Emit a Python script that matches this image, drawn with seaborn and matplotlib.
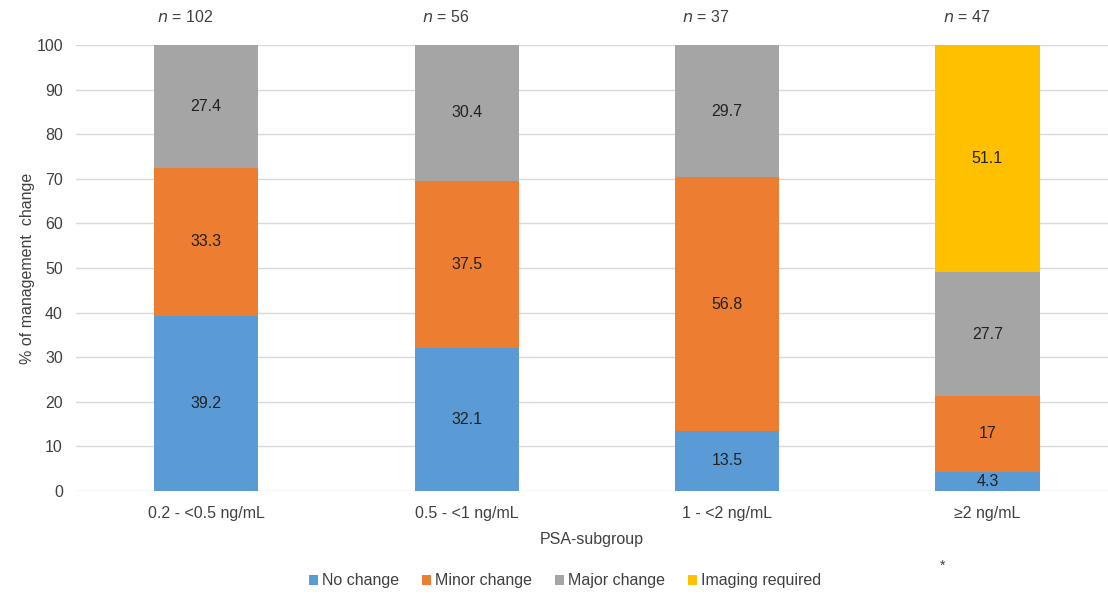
import matplotlib
matplotlib.use("Agg")
import matplotlib.pyplot as plt
from matplotlib.patches import Patch
import numpy as np
import pandas as pd
import seaborn as sns

# PSA subgroups and the share of patients per management-change category (%)
subgroups = ["0.2 - <0.5 ng/mL", "0.5 - <1 ng/mL", "1 - <2 ng/mL", "\u22652 ng/mL"]
group_sizes = [102, 56, 37, 47]
no_change = [39.2, 32.1, 13.5, 4.3]
minor_change = [33.3, 37.5, 56.8, 17]
major_change = [27.4, 30.4, 29.7, 27.7]
imaging_required = [0, 0, 0, 51.1]

series_names = ["No change", "Minor change", "Major change", "Imaging required"]
series_values = [no_change, minor_change, major_change, imaging_required]
series_colors = ["#5B9BD5", "#ED7D31", "#A5A5A5", "#FFC000"]

sns.set_theme(style="white")
plt.rcParams["font.family"] = ["Liberation Sans", "DejaVu Sans"]

FS = 11.5
TXT = "#404040"

fig = plt.figure(figsize=(11.08, 5.95), dpi=100)
ax = fig.add_axes([76 / 1108, 104 / 595, 1 - 76 / 1108, 446 / 595])

bottoms = np.zeros(len(subgroups))
for name, vals, col in zip(series_names, series_values, series_colors):
    df = pd.DataFrame({"group": subgroups, "value": vals})
    sns.barplot(data=df, x="group", y="value", order=subgroups, color=col,
                width=0.4, bottom=bottoms.copy(), ax=ax, saturation=1,
                linewidth=0, zorder=3)
    for i, v in enumerate(vals):
        if v > 0:
            ax.text(i, bottoms[i] + v / 2, f"{v:g}", ha="center", va="center",
                    fontsize=FS, color="#222222", zorder=4)
    bottoms += np.array(vals)

ax.set_ylim(0, 100)
ax.set_xlim(-0.5, 3.463)
ax.set_yticks(range(0, 101, 10))
ax.yaxis.grid(True, color="#D9D9D9", linewidth=1.0, zorder=0)
ax.xaxis.grid(False)
for s in ax.spines.values():
    s.set_visible(False)
ax.tick_params(axis="both", length=0, labelsize=FS, labelcolor=TXT)
ax.tick_params(axis="y", pad=9.4)
ax.tick_params(axis="x", pad=11)
ax.set_xlabel("PSA-subgroup", fontsize=FS, color=TXT, labelpad=8)
ax.set_ylabel("% of management  change", fontsize=FS, color=TXT)
ax.yaxis.set_label_coords(-41 / 1032, 0.5)

# group sizes above each bar
for i, n in enumerate(group_sizes):
    ax.text(i - 0.08, 106.2, f"$n$ = {n}", ha="center", va="center",
            fontsize=FS, color=TXT, clip_on=False)

handles = [Patch(facecolor=c, edgecolor="none") for c in series_colors]
fig.legend(handles, series_names, loc="center", ncol=4, frameon=False,
           bbox_to_anchor=(565 / 1108, 1 - 581 / 595), fontsize=FS,
           handlelength=0.55, handleheight=0.55, handletextpad=0.25,
           columnspacing=1.45, labelcolor=TXT)
fig.text(943 / 1108, 1 - 566 / 595, "*", ha="center", va="center",
         fontsize=10, color=TXT)

fig.savefig("out.png", dpi=100)
